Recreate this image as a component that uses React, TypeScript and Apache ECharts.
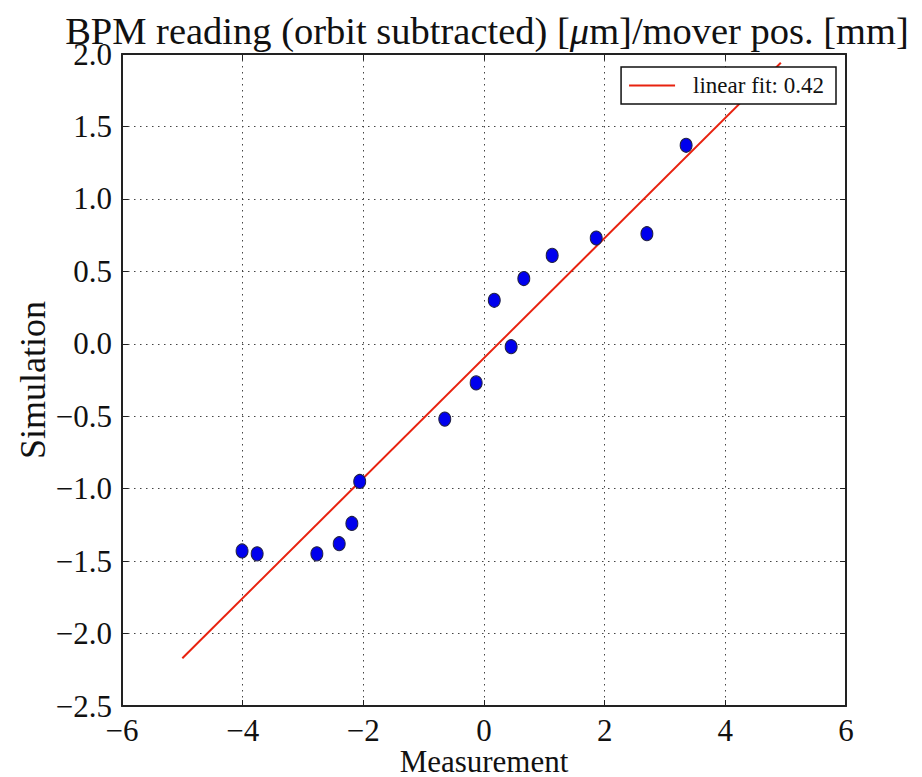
import React, { useEffect, useRef } from "react";
import * as echarts from "echarts";

const measX = [-4.01, -3.76, -2.77, -2.4, -2.19, -2.06, -0.65, -0.13, 0.17, 0.45, 0.66, 1.13, 1.86, 2.7, 3.35];
const simY = [-1.43, -1.45, -1.45, -1.38, -1.24, -0.95, -0.52, -0.27, 0.3, -0.02, 0.45, 0.61, 0.73, 0.76, 1.37];
const fitX = [-5, 4.92];
const fitY = [-2.17, 1.94];
const fitName = "linear fit: 0.42";
const titleText = "BPM reading (orbit subtracted) [{i|μ}m]/mover pos. [mm]";

const FONT = "'Liberation Serif', 'DejaVu Serif', serif";

function fmtY(v: number) {
  const s = Math.abs(v).toFixed(1);
  return v < 0 ? "\u2212" + s : s;
}
function fmtX(v: number) {
  const s = String(Math.abs(v));
  return v < 0 ? "\u2212" + s : s;
}

export default function App() {
  const ref = useRef<HTMLDivElement>(null);
  useEffect(() => {
    if (!ref.current) return;
    const chart = echarts.init(ref.current, null, { renderer: "svg" });
    const frame = { show: true, onZero: false, lineStyle: { color: "#222", width: 2 } };
    const tick = { show: true, inside: true, length: 6, lineStyle: { color: "#222", width: 1 } };
    const split = { show: true, lineStyle: { color: "#444", width: 1, type: [1.5, 4.5] as any } };
    chart.setOption({
      animation: false,
      backgroundColor: "#fff",
      title: {
        text: titleText,
        left: 482,
        top: 6,
        textAlign: "center",
        textStyle: {
          fontFamily: FONT,
          fontSize: 38.5,
          fontWeight: "normal",
          color: "#111",
          rich: { i: { fontFamily: FONT, fontSize: 38.5, fontStyle: "italic", color: "#111" } },
        },
      },
      grid: { left: 122, right: 76, top: 54, bottom: 71, containLabel: false, outerBoundsMode: "none" },
      legend: {
        right: 86,
        top: 67,
        orient: "horizontal",
        backgroundColor: "#fff",
        borderColor: "#111",
        borderWidth: 1.5,
        borderRadius: 0,
        padding: [7, 12, 7, 8],
        icon: "rect",
        itemWidth: 46,
        itemHeight: 2,
        itemGap: 10,
        textStyle: { fontFamily: FONT, fontSize: 23, color: "#111", padding: [0, 0, 0, 13] },
        data: [fitName],
      },
      xAxis: [
        {
          type: "value",
          min: -6,
          max: 6,
          interval: 2,
          position: "bottom",
          name: "Measurement",
          nameLocation: "middle",
          nameGap: 40,
          nameMoveOverlap: false,
          nameTextStyle: { fontFamily: FONT, fontSize: 31, color: "#111", lineHeight: 30, verticalAlign: "top" },
          axisLine: frame,
          axisTick: tick,
          splitLine: split,
          axisLabel: { margin: 10, fontFamily: FONT, fontSize: 31, lineHeight: 28, color: "#111", formatter: fmtX },
        },
        {
          type: "value",
          min: -6,
          max: 6,
          interval: 2,
          position: "top",
          axisLine: frame,
          axisTick: tick,
          splitLine: { show: false },
          axisLabel: { show: false },
        },
      ],
      yAxis: [
        {
          type: "value",
          min: -2.5,
          max: 2.0,
          interval: 0.5,
          position: "left",
          name: "Simulation",
          nameLocation: "middle",
          nameGap: 71,
          nameMoveOverlap: false,
          nameTextStyle: { fontFamily: FONT, fontSize: 36, color: "#111" },
          axisLine: frame,
          axisTick: tick,
          splitLine: split,
          axisLabel: { margin: 10, fontFamily: FONT, fontSize: 31, color: "#111", formatter: fmtY },
        },
        {
          type: "value",
          min: -2.5,
          max: 2.0,
          interval: 0.5,
          position: "right",
          axisLine: frame,
          axisTick: tick,
          splitLine: { show: false },
          axisLabel: { show: false },
        },
      ],
      series: [
        {
          name: fitName,
          type: "line",
          data: fitX.map((x, i) => [x, fitY[i]]),
          showSymbol: false,
          symbol: "none",
          lineStyle: { color: "#e8220f", width: 2 },
          itemStyle: { color: "#e8220f" },
          z: 2,
        },
        {
          name: "data",
          type: "scatter",
          data: measX.map((x, i) => [x, simY[i]]),
          symbol: "circle",
          symbolSize: [12, 14],
          itemStyle: { color: "#0000ee", borderColor: "#222244", borderWidth: 1, opacity: 1 },
          z: 3,
        },
      ],
    });
    return () => chart.dispose();
  }, []);
  return <div ref={ref} style={{ width: 922, height: 777, position: "absolute", left: 0, top: 0 }} />;
}
